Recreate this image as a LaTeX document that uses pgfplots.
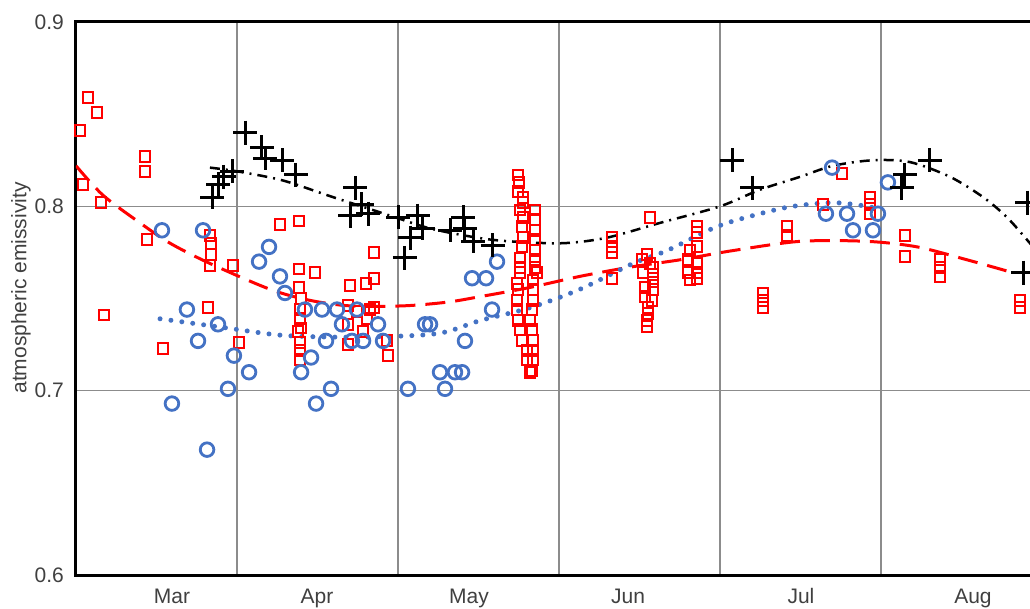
\documentclass[border=0pt]{standalone}
\usepackage{fontspec}
\setmainfont{Liberation Sans}
\usepackage{pgfplots}
\pgfplotsset{compat=1.18}
\usetikzlibrary{calc}
\definecolor{myblue}{HTML}{4472C4}
\definecolor{labgray}{HTML}{404040}
\definecolor{gridgray}{HTML}{8C8C8C}
\begin{document}
\begin{tikzpicture}
\begin{axis}[
  name=ax,
  scale only axis,
  width=966pt, height=553pt,
  xmin=0, xmax=6, ymin=0.6, ymax=0.9,
  axis line style={line width=3pt, black},
  major tick length=0pt, minor tick length=0pt,
  xtick={0.596,1.497,2.441,3.429,4.503,5.571},
  xticklabels={Mar,Apr,May,Jun,Jul,Aug},
  minor xtick={1,2,3,4,5},
  ytick={0.6,0.7,0.8,0.9},
  minor ytick={0.7,0.8},
  yticklabels={0.6,0.7,0.8,0.9},
  xminorgrids, yminorgrids,
  minor grid style={gridgray, line width=1.6pt},
  xticklabel pos=lower, yticklabel pos=left,
  tick label style={font=\fontsize{21}{25}\selectfont, text=labgray, inner sep=0pt},
  xticklabel style={anchor=base, yshift=-28pt},
  yticklabel style={anchor=east, xshift=-12pt},
  /pgf/number format/assume math mode=true,
  ylabel={atmospheric emissivity},
  every axis y label/.style={at={(axis description cs:-0.0569,0.519)}, rotate=90, anchor=center, font=\fontsize{21}{25}\selectfont, text=labgray},
  clip=true,
]
% red squares
\addplot[only marks, mark=square, mark size=5.4pt, draw=red, line width=2pt] coordinates {
(0.075,0.859) (0.130,0.851) (0.025,0.841) (0.429,0.827) (0.429,0.819) (0.043,0.812) (0.155,0.802) (0.441,0.782) (0.174,0.741) (0.540,0.723)
(0.832,0.784) (0.839,0.780) (0.839,0.774) (0.832,0.768) (0.975,0.768) (0.820,0.745) (1.012,0.726)
(1.267,0.790) (1.385,0.792) (1.385,0.766) (1.484,0.764) (1.385,0.756) (1.398,0.750) (1.391,0.744) (1.391,0.739) (1.398,0.734) (1.379,0.732) (1.391,0.726) (1.391,0.722) (1.391,0.717)
(1.702,0.757) (1.801,0.758) (1.851,0.761) (1.851,0.775) (1.689,0.746) (1.745,0.743) (1.826,0.744) (1.851,0.745) (1.689,0.736) (1.807,0.739) (1.783,0.732) (1.689,0.725) (1.932,0.727) (1.938,0.719)
(2.745,0.817) (2.752,0.813) (2.745,0.808) (2.776,0.805) (2.776,0.802) (2.758,0.798) (2.851,0.798) (2.776,0.794) (2.851,0.793) (2.770,0.789) (2.851,0.787) (2.776,0.783) (2.851,0.782) (2.770,0.778) (2.851,0.776) (2.758,0.772) (2.851,0.771) (2.758,0.767) (2.851,0.767) (2.758,0.764) (2.863,0.764) (2.739,0.758) (2.839,0.760) (2.745,0.755) (2.839,0.755) (2.739,0.749) (2.839,0.749) (2.739,0.744) (2.832,0.744) (2.745,0.738) (2.820,0.738) (2.758,0.733) (2.832,0.733) (2.770,0.727) (2.839,0.727) (2.801,0.722) (2.839,0.722) (2.801,0.717) (2.839,0.717) (2.832,0.711) (2.820,0.710)
(3.329,0.783) (3.329,0.778) (3.329,0.775) (3.329,0.761)
(3.565,0.794)
(3.547,0.774) (3.565,0.769) (3.584,0.767) (3.584,0.763) (3.584,0.759) (3.584,0.755) (3.578,0.749) (3.553,0.745) (3.553,0.742) (3.547,0.738) (3.547,0.735) (3.516,0.771) (3.522,0.764) (3.534,0.756) (3.534,0.751)
(3.857,0.789) (3.857,0.786) (3.857,0.778) (3.857,0.769) (3.857,0.764) (3.857,0.761) (3.814,0.776) (3.801,0.771) (3.801,0.764) (3.814,0.760)
(4.267,0.753) (4.267,0.749) (4.267,0.745)
(4.416,0.789) (4.416,0.784)
(4.640,0.801) (4.758,0.818)
(4.932,0.805) (4.932,0.801) (4.932,0.796)
(5.149,0.784) (5.149,0.773)
(5.366,0.771) (5.366,0.767) (5.366,0.762)
(5.863,0.749) (5.863,0.745)
};
% red trend
\addplot[red, line width=3pt, dash pattern=on 20pt off 10pt, smooth] coordinates {
(0,0.822) (0.168,0.806) (0.398,0.791) (0.584,0.780) (0.832,0.769) (1.205,0.755) (1.453,0.749) (1.702,0.746) (2.031,0.746) (2.304,0.748) (2.509,0.751) (2.820,0.756) (3.130,0.762) (3.441,0.767) (3.752,0.771) (4.081,0.776) (4.497,0.781) (4.913,0.781) (5.224,0.778) (5.534,0.771) (5.820,0.764)
};
% blue circles
\addplot[only marks, mark=o, mark size=6.8pt, draw=myblue, line width=2.8pt] coordinates {
(0.534,0.787) (0.789,0.787) (0.689,0.744) (0.758,0.727) (0.596,0.693) (0.814,0.668) (0.882,0.736) (0.981,0.719) (1.075,0.710) (0.944,0.701)
(1.199,0.778) (1.137,0.770) (1.267,0.762) (1.298,0.753) (1.422,0.744) (1.528,0.744) (1.621,0.744) (1.745,0.744) (1.652,0.736) (1.876,0.736)
(1.553,0.727) (1.714,0.727) (1.783,0.727) (1.907,0.727) (1.460,0.718) (1.398,0.710) (1.584,0.701) (1.491,0.693) (2.062,0.701)
(2.168,0.736) (2.199,0.736) (2.261,0.710) (2.292,0.701) (2.354,0.710) (2.398,0.710) (2.416,0.727) (2.460,0.761) (2.547,0.761) (2.584,0.744) (2.615,0.770)
(4.696,0.821) (5.043,0.813) (4.658,0.796) (4.789,0.796) (4.981,0.796) (4.826,0.787) (4.950,0.787)
};
% blue trend
\addplot[myblue, line width=5pt, line cap=round, dash pattern=on 0pt off 11pt, smooth] coordinates {
(0.522,0.739) (0.938,0.734) (1.286,0.730) (1.702,0.729) (2.118,0.730) (2.304,0.732) (2.509,0.738) (2.820,0.745) (3.130,0.755) (3.460,0.769) (3.671,0.776) (3.981,0.789) (4.248,0.796) (4.453,0.800) (4.702,0.802) (4.913,0.800) (4.994,0.798)
};
% black plus
\addplot[only marks, mark=+, mark size=12pt, draw=black, line width=3pt] coordinates {
(0.845,0.805) (0.882,0.812) (0.919,0.816) (0.969,0.819) (1.050,0.840) (1.155,0.832) (1.174,0.826) (1.280,0.825) (1.366,0.817)
(1.733,0.810) (1.776,0.801) (1.702,0.795) (1.814,0.796) (2.000,0.794) (2.124,0.795) (2.075,0.783) (2.043,0.772) (2.155,0.788)
(2.323,0.787) (2.404,0.794) (2.416,0.788) (2.466,0.781) (2.590,0.779)
(4.075,0.825) (4.199,0.810) (5.130,0.810) (5.149,0.817) (5.304,0.825) (5.907,0.802) (5.882,0.764)
};
% black trend
\addplot[black, line width=2.5pt, dash pattern=on 10pt off 6pt on 2pt off 6pt, smooth] coordinates {
(0.832,0.821) (1.000,0.819) (1.286,0.814) (1.596,0.805) (1.950,0.795) (2.199,0.788) (2.491,0.783) (2.696,0.781) (3.025,0.780) (3.298,0.783) (3.627,0.791) (4.000,0.800) (4.248,0.809) (4.497,0.816) (4.702,0.822) (4.950,0.825) (5.180,0.824) (5.429,0.816) (5.634,0.805) (5.783,0.794) (5.925,0.780) (6.000,0.772)
};
\end{axis}
\pgfresetboundingbox
\path[use as bounding box] ($(ax.south west)+(-76pt,-33pt)$) rectangle ($(ax.south west)+(954pt,575pt)$);
\end{tikzpicture}
\end{document}
